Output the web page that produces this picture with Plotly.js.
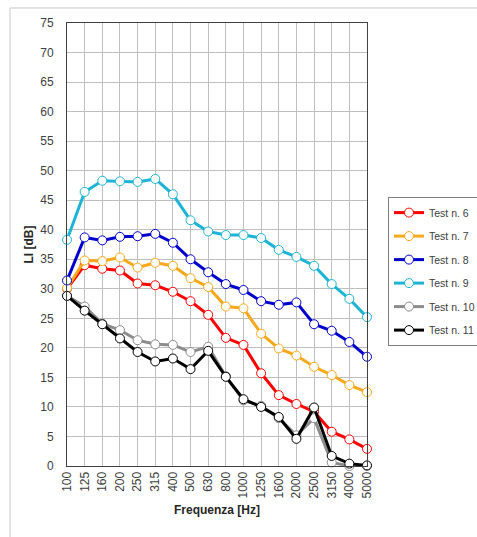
<!DOCTYPE html>
<html>
<head>
<meta charset="utf-8">
<script src="https://cdn.plot.ly/plotly-3.0.1.min.js"></script>
<style>html,body{margin:0;padding:0;background:#fff;}#chart{width:477px;height:537px;}</style>
</head>
<body>
<div id="chart"></div>
<script>
const categories = ['100','125','160','200','250','315','400','500','630','800','1000','1250','1600','2000','2500','3150','4000','5000'];
const test6  = [30.0, 34.0, 33.4, 33.1, 30.9, 30.6, 29.5, 27.9, 25.6, 21.7, 20.5, 15.7, 12.0, 10.5, 9.2, 5.8, 4.5, 2.9];
const test7  = [30.1, 34.8, 34.7, 35.3, 33.6, 34.4, 33.9, 31.8, 30.3, 27.0, 26.7, 22.4, 19.9, 18.7, 16.8, 15.4, 13.7, 12.5];
const test8  = [31.4, 38.7, 38.2, 38.8, 38.9, 39.3, 37.8, 35.0, 32.8, 30.8, 29.8, 27.9, 27.3, 27.7, 24.0, 22.9, 21.0, 18.5];
const test9  = [38.3, 46.4, 48.3, 48.2, 48.1, 48.6, 46.0, 41.6, 39.7, 39.1, 39.1, 38.6, 36.6, 35.4, 33.9, 30.8, 28.3, 25.2];
const test10 = [28.8, 27.0, 24.1, 23.0, 21.3, 20.6, 20.5, 19.3, 20.2, 15.2, 11.1, 10.2, 8.1, 5.2, 8.1, 0.6, 0.0, 0.0];
const test11 = [28.8, 26.3, 24.0, 21.6, 19.3, 17.7, 18.2, 16.4, 19.5, 15.1, 11.3, 10.0, 8.3, 4.6, 9.9, 1.7, 0.4, 0.1];
const seriesNames = ['Test n. 6','Test n. 7','Test n. 8','Test n. 9','Test n. 10','Test n. 11'];
const seriesValues = [test6, test7, test8, test9, test10, test11];
const seriesColors = ['#FF0000','#F7A81B','#0000CC','#1EB4D6','#8C8C8C','#000000'];

const traces = seriesValues.map((vals, i) => ({
  type: 'scatter', mode: 'lines+markers',
  x: categories, y: vals, name: seriesNames[i],
  legendgroup: 'g' + i,
  cliponaxis: false,
  line: {color: seriesColors[i], width: 3},
  marker: {symbol: 'circle', size: 9, color: '#FFFFFF', line: {color: seriesColors[i], width: 1}}
}));

const font = 'Liberation Sans, Arial, sans-serif';
const legendFont = 'Liberation Sans Narrow, Liberation Sans, Arial, sans-serif';
const layout = {
  width: 477, height: 537,
  margin: {l: 67, r: 110, t: 23, b: 71, pad: 0, autoexpand: false},
  paper_bgcolor: '#FFFFFF', plot_bgcolor: '#FFFFFF',
  font: {family: font, size: 12, color: '#404040'},
  showlegend: true,
  legend: {
    x: 1.07, y: 0.607, xanchor: 'left', yanchor: 'top',
    bordercolor: '#808080', borderwidth: 1,
    font: {family: legendFont, size: 10.5, color: '#404040'},
    itemwidth: 30,
    tracegroupgap: 4.5, traceorder: 'grouped'
  },
  xaxis: {
    type: 'category', range: [0, 17],
    showgrid: true, gridcolor: '#BFBFBF', gridwidth: 1,
    showline: true, linecolor: '#404040', linewidth: 1, mirror: true,
    ticks: '', tickangle: -90, tickfont: {family: font, size: 12, color: '#404040'},
    title: {text: 'Frequenza [Hz]', font: {family: font, size: 12, color: '#262626', weight: 'bold'}, standoff: 8},
    zeroline: false, fixedrange: true
  },
  yaxis: {
    range: [0, 75], dtick: 5, tick0: 0,
    showgrid: true, gridcolor: '#BFBFBF', gridwidth: 1,
    showline: true, linecolor: '#404040', linewidth: 1, mirror: true,
    ticks: '', ticklabelstandoff: 10, tickfont: {family: font, size: 12, color: '#404040'},
    title: {text: 'Ll [dB]', font: {family: font, size: 12, color: '#262626', weight: 'bold'}, standoff: 4},
    zeroline: false, fixedrange: true
  },
  shapes: [{
    type: 'rect', xref: 'paper', yref: 'paper',
    x0: -0.19, x1: 1.4, y0: -0.2, y1: 1.0339,
    line: {color: '#C8C8C8', width: 1}, fillcolor: 'rgba(0,0,0,0)', layer: 'below'
  }]
};
Plotly.newPlot('chart', traces, layout, {displayModeBar: false, staticPlot: true});
</script>
</body>
</html>
